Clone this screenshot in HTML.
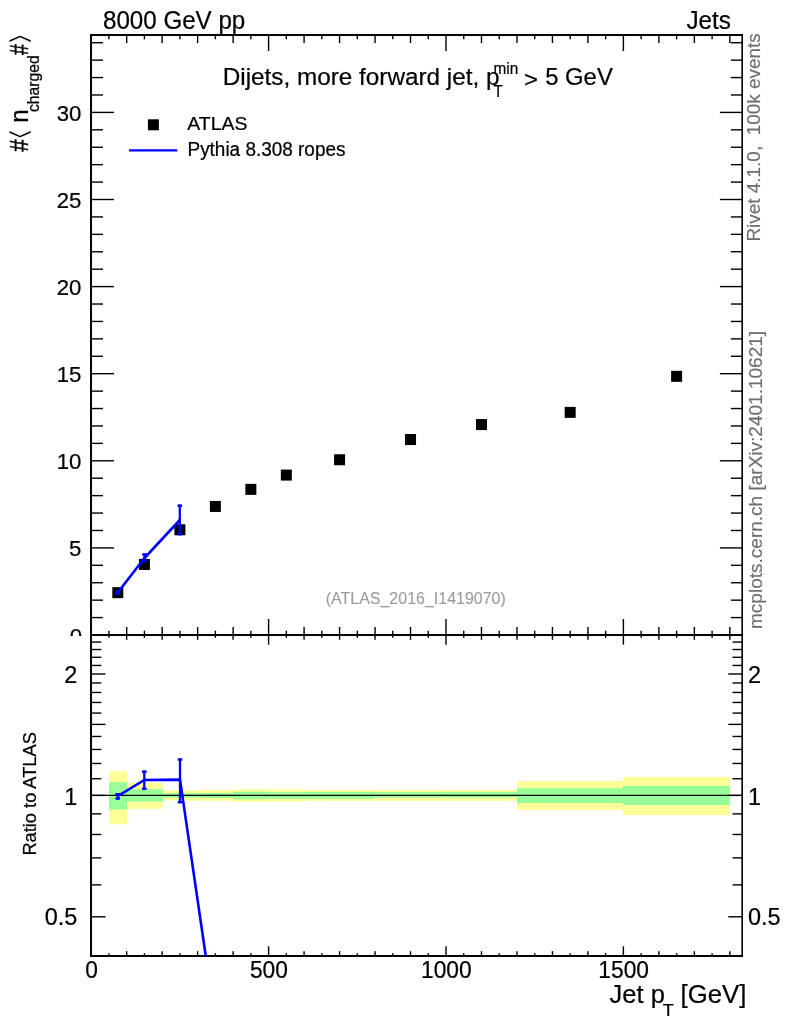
<!DOCTYPE html>
<html lang="en"><head><meta charset="utf-8"><title>Dijets, more forward jet</title>
<style>
html,body{margin:0;padding:0;background:#fff;}
body{width:786px;height:1024px;overflow:hidden;}
svg{display:block;font-family:"Liberation Sans", "DejaVu Sans", sans-serif;}
.ax{stroke:#000;fill:none;}
text{fill:#000;stroke:#000;stroke-width:0.22px;}
.g{fill:#9a9a9a;stroke:#9a9a9a;stroke-width:0.1px;}
.h{fill:#6e6e6e;stroke:#6e6e6e;stroke-width:0.15px;}
</style></head><body>
<svg width="786" height="1024" viewBox="0 0 786 1024">
<rect x="0" y="0" width="786" height="1024" fill="#fff"/>
<clipPath id="cu"><rect x="0" y="0" width="786" height="636"/></clipPath>
<g clip-path="url(#cu)">
<text transform="translate(82.00 644.00) scale(1.0000 0.9800)" font-size="22.2" text-anchor="end">0</text>
</g>
<g>
<rect x="109" y="771.2" width="18" height="53.1" fill="#ffff99"/>
<rect x="127" y="783.0" width="36" height="25.7" fill="#ffff99"/>
<rect x="163" y="790.5" width="35" height="10.0" fill="#ffff99"/>
<rect x="198" y="790.0" width="35" height="10.8" fill="#ffff99"/>
<rect x="233" y="789.2" width="35" height="12.5" fill="#ffff99"/>
<rect x="268" y="789.3" width="37" height="12.3" fill="#ffff99"/>
<rect x="305" y="790.0" width="70" height="10.8" fill="#ffff99"/>
<rect x="375" y="790.0" width="71" height="10.8" fill="#ffff99"/>
<rect x="446" y="790.0" width="71" height="10.8" fill="#ffff99"/>
<rect x="517" y="781.0" width="106" height="29.0" fill="#ffff99"/>
<rect x="623" y="777.0" width="107" height="38.2" fill="#ffff99"/>
<rect x="109" y="782.2" width="18" height="27.3" fill="#99ff99"/>
<rect x="127" y="789.2" width="36" height="12.5" fill="#99ff99"/>
<rect x="163" y="793.2" width="35" height="4.6" fill="#99ff99"/>
<rect x="198" y="793.0" width="35" height="5.0" fill="#99ff99"/>
<rect x="233" y="791.7" width="35" height="7.5" fill="#99ff99"/>
<rect x="268" y="792.2" width="37" height="6.6" fill="#99ff99"/>
<rect x="305" y="791.8" width="70" height="7.0" fill="#99ff99"/>
<rect x="375" y="792.2" width="71" height="5.5" fill="#99ff99"/>
<rect x="446" y="791.8" width="71" height="5.8" fill="#99ff99"/>
<rect x="517" y="788.3" width="106" height="14.7" fill="#99ff99"/>
<rect x="623" y="786.0" width="107" height="19.0" fill="#99ff99"/>
</g>
<line x1="91.00" y1="795.40" x2="742.00" y2="795.40" stroke="#000" stroke-width="1.1"/>
<line x1="91.00" y1="34.00" x2="91.00" y2="957.00" stroke="#000" stroke-width="2"/>
<line x1="90.00" y1="35.00" x2="743.00" y2="35.00" stroke="#000" stroke-width="2"/>
<line x1="90.00" y1="635.00" x2="743.00" y2="635.00" stroke="#000" stroke-width="2"/>
<line x1="90.00" y1="956.00" x2="743.00" y2="956.00" stroke="#000" stroke-width="2"/>
<line x1="742.20" y1="34.00" x2="742.20" y2="957.00" stroke="#000" stroke-width="1.6"/>
<line x1="108.94" y1="635.00" x2="108.94" y2="630.70" stroke="#000" stroke-width="1.4"/>
<line x1="108.94" y1="35.00" x2="108.94" y2="39.30" stroke="#000" stroke-width="1.4"/>
<line x1="108.94" y1="635.00" x2="108.94" y2="637.80" stroke="#000" stroke-width="1.4"/>
<line x1="108.94" y1="956.00" x2="108.94" y2="953.20" stroke="#000" stroke-width="1.4"/>
<line x1="126.68" y1="635.00" x2="126.68" y2="627.00" stroke="#000" stroke-width="1.4"/>
<line x1="126.68" y1="35.00" x2="126.68" y2="43.00" stroke="#000" stroke-width="1.4"/>
<line x1="126.68" y1="635.00" x2="126.68" y2="639.80" stroke="#000" stroke-width="1.4"/>
<line x1="126.68" y1="956.00" x2="126.68" y2="951.20" stroke="#000" stroke-width="1.4"/>
<line x1="144.42" y1="635.00" x2="144.42" y2="630.70" stroke="#000" stroke-width="1.4"/>
<line x1="144.42" y1="35.00" x2="144.42" y2="39.30" stroke="#000" stroke-width="1.4"/>
<line x1="144.42" y1="635.00" x2="144.42" y2="637.80" stroke="#000" stroke-width="1.4"/>
<line x1="144.42" y1="956.00" x2="144.42" y2="953.20" stroke="#000" stroke-width="1.4"/>
<line x1="162.16" y1="635.00" x2="162.16" y2="627.00" stroke="#000" stroke-width="1.4"/>
<line x1="162.16" y1="35.00" x2="162.16" y2="43.00" stroke="#000" stroke-width="1.4"/>
<line x1="162.16" y1="635.00" x2="162.16" y2="639.80" stroke="#000" stroke-width="1.4"/>
<line x1="162.16" y1="956.00" x2="162.16" y2="951.20" stroke="#000" stroke-width="1.4"/>
<line x1="179.90" y1="635.00" x2="179.90" y2="630.70" stroke="#000" stroke-width="1.4"/>
<line x1="179.90" y1="35.00" x2="179.90" y2="39.30" stroke="#000" stroke-width="1.4"/>
<line x1="179.90" y1="635.00" x2="179.90" y2="637.80" stroke="#000" stroke-width="1.4"/>
<line x1="179.90" y1="956.00" x2="179.90" y2="953.20" stroke="#000" stroke-width="1.4"/>
<line x1="197.64" y1="635.00" x2="197.64" y2="627.00" stroke="#000" stroke-width="1.4"/>
<line x1="197.64" y1="35.00" x2="197.64" y2="43.00" stroke="#000" stroke-width="1.4"/>
<line x1="197.64" y1="635.00" x2="197.64" y2="639.80" stroke="#000" stroke-width="1.4"/>
<line x1="197.64" y1="956.00" x2="197.64" y2="951.20" stroke="#000" stroke-width="1.4"/>
<line x1="215.38" y1="635.00" x2="215.38" y2="630.70" stroke="#000" stroke-width="1.4"/>
<line x1="215.38" y1="35.00" x2="215.38" y2="39.30" stroke="#000" stroke-width="1.4"/>
<line x1="215.38" y1="635.00" x2="215.38" y2="637.80" stroke="#000" stroke-width="1.4"/>
<line x1="215.38" y1="956.00" x2="215.38" y2="953.20" stroke="#000" stroke-width="1.4"/>
<line x1="233.12" y1="635.00" x2="233.12" y2="627.00" stroke="#000" stroke-width="1.4"/>
<line x1="233.12" y1="35.00" x2="233.12" y2="43.00" stroke="#000" stroke-width="1.4"/>
<line x1="233.12" y1="635.00" x2="233.12" y2="639.80" stroke="#000" stroke-width="1.4"/>
<line x1="233.12" y1="956.00" x2="233.12" y2="951.20" stroke="#000" stroke-width="1.4"/>
<line x1="250.86" y1="635.00" x2="250.86" y2="630.70" stroke="#000" stroke-width="1.4"/>
<line x1="250.86" y1="35.00" x2="250.86" y2="39.30" stroke="#000" stroke-width="1.4"/>
<line x1="250.86" y1="635.00" x2="250.86" y2="637.80" stroke="#000" stroke-width="1.4"/>
<line x1="250.86" y1="956.00" x2="250.86" y2="953.20" stroke="#000" stroke-width="1.4"/>
<line x1="268.60" y1="635.00" x2="268.60" y2="619.00" stroke="#000" stroke-width="1.4"/>
<line x1="268.60" y1="35.00" x2="268.60" y2="51.00" stroke="#000" stroke-width="1.4"/>
<line x1="268.60" y1="635.00" x2="268.60" y2="644.70" stroke="#000" stroke-width="1.4"/>
<line x1="268.60" y1="956.00" x2="268.60" y2="946.30" stroke="#000" stroke-width="1.4"/>
<line x1="286.34" y1="635.00" x2="286.34" y2="630.70" stroke="#000" stroke-width="1.4"/>
<line x1="286.34" y1="35.00" x2="286.34" y2="39.30" stroke="#000" stroke-width="1.4"/>
<line x1="286.34" y1="635.00" x2="286.34" y2="637.80" stroke="#000" stroke-width="1.4"/>
<line x1="286.34" y1="956.00" x2="286.34" y2="953.20" stroke="#000" stroke-width="1.4"/>
<line x1="304.08" y1="635.00" x2="304.08" y2="627.00" stroke="#000" stroke-width="1.4"/>
<line x1="304.08" y1="35.00" x2="304.08" y2="43.00" stroke="#000" stroke-width="1.4"/>
<line x1="304.08" y1="635.00" x2="304.08" y2="639.80" stroke="#000" stroke-width="1.4"/>
<line x1="304.08" y1="956.00" x2="304.08" y2="951.20" stroke="#000" stroke-width="1.4"/>
<line x1="321.82" y1="635.00" x2="321.82" y2="630.70" stroke="#000" stroke-width="1.4"/>
<line x1="321.82" y1="35.00" x2="321.82" y2="39.30" stroke="#000" stroke-width="1.4"/>
<line x1="321.82" y1="635.00" x2="321.82" y2="637.80" stroke="#000" stroke-width="1.4"/>
<line x1="321.82" y1="956.00" x2="321.82" y2="953.20" stroke="#000" stroke-width="1.4"/>
<line x1="339.56" y1="635.00" x2="339.56" y2="627.00" stroke="#000" stroke-width="1.4"/>
<line x1="339.56" y1="35.00" x2="339.56" y2="43.00" stroke="#000" stroke-width="1.4"/>
<line x1="339.56" y1="635.00" x2="339.56" y2="639.80" stroke="#000" stroke-width="1.4"/>
<line x1="339.56" y1="956.00" x2="339.56" y2="951.20" stroke="#000" stroke-width="1.4"/>
<line x1="357.30" y1="635.00" x2="357.30" y2="630.70" stroke="#000" stroke-width="1.4"/>
<line x1="357.30" y1="35.00" x2="357.30" y2="39.30" stroke="#000" stroke-width="1.4"/>
<line x1="357.30" y1="635.00" x2="357.30" y2="637.80" stroke="#000" stroke-width="1.4"/>
<line x1="357.30" y1="956.00" x2="357.30" y2="953.20" stroke="#000" stroke-width="1.4"/>
<line x1="375.04" y1="635.00" x2="375.04" y2="627.00" stroke="#000" stroke-width="1.4"/>
<line x1="375.04" y1="35.00" x2="375.04" y2="43.00" stroke="#000" stroke-width="1.4"/>
<line x1="375.04" y1="635.00" x2="375.04" y2="639.80" stroke="#000" stroke-width="1.4"/>
<line x1="375.04" y1="956.00" x2="375.04" y2="951.20" stroke="#000" stroke-width="1.4"/>
<line x1="392.78" y1="635.00" x2="392.78" y2="630.70" stroke="#000" stroke-width="1.4"/>
<line x1="392.78" y1="35.00" x2="392.78" y2="39.30" stroke="#000" stroke-width="1.4"/>
<line x1="392.78" y1="635.00" x2="392.78" y2="637.80" stroke="#000" stroke-width="1.4"/>
<line x1="392.78" y1="956.00" x2="392.78" y2="953.20" stroke="#000" stroke-width="1.4"/>
<line x1="410.52" y1="635.00" x2="410.52" y2="627.00" stroke="#000" stroke-width="1.4"/>
<line x1="410.52" y1="35.00" x2="410.52" y2="43.00" stroke="#000" stroke-width="1.4"/>
<line x1="410.52" y1="635.00" x2="410.52" y2="639.80" stroke="#000" stroke-width="1.4"/>
<line x1="410.52" y1="956.00" x2="410.52" y2="951.20" stroke="#000" stroke-width="1.4"/>
<line x1="428.26" y1="635.00" x2="428.26" y2="630.70" stroke="#000" stroke-width="1.4"/>
<line x1="428.26" y1="35.00" x2="428.26" y2="39.30" stroke="#000" stroke-width="1.4"/>
<line x1="428.26" y1="635.00" x2="428.26" y2="637.80" stroke="#000" stroke-width="1.4"/>
<line x1="428.26" y1="956.00" x2="428.26" y2="953.20" stroke="#000" stroke-width="1.4"/>
<line x1="446.00" y1="635.00" x2="446.00" y2="619.00" stroke="#000" stroke-width="1.4"/>
<line x1="446.00" y1="35.00" x2="446.00" y2="51.00" stroke="#000" stroke-width="1.4"/>
<line x1="446.00" y1="635.00" x2="446.00" y2="644.70" stroke="#000" stroke-width="1.4"/>
<line x1="446.00" y1="956.00" x2="446.00" y2="946.30" stroke="#000" stroke-width="1.4"/>
<line x1="463.74" y1="635.00" x2="463.74" y2="630.70" stroke="#000" stroke-width="1.4"/>
<line x1="463.74" y1="35.00" x2="463.74" y2="39.30" stroke="#000" stroke-width="1.4"/>
<line x1="463.74" y1="635.00" x2="463.74" y2="637.80" stroke="#000" stroke-width="1.4"/>
<line x1="463.74" y1="956.00" x2="463.74" y2="953.20" stroke="#000" stroke-width="1.4"/>
<line x1="481.48" y1="635.00" x2="481.48" y2="627.00" stroke="#000" stroke-width="1.4"/>
<line x1="481.48" y1="35.00" x2="481.48" y2="43.00" stroke="#000" stroke-width="1.4"/>
<line x1="481.48" y1="635.00" x2="481.48" y2="639.80" stroke="#000" stroke-width="1.4"/>
<line x1="481.48" y1="956.00" x2="481.48" y2="951.20" stroke="#000" stroke-width="1.4"/>
<line x1="499.22" y1="635.00" x2="499.22" y2="630.70" stroke="#000" stroke-width="1.4"/>
<line x1="499.22" y1="35.00" x2="499.22" y2="39.30" stroke="#000" stroke-width="1.4"/>
<line x1="499.22" y1="635.00" x2="499.22" y2="637.80" stroke="#000" stroke-width="1.4"/>
<line x1="499.22" y1="956.00" x2="499.22" y2="953.20" stroke="#000" stroke-width="1.4"/>
<line x1="516.96" y1="635.00" x2="516.96" y2="627.00" stroke="#000" stroke-width="1.4"/>
<line x1="516.96" y1="35.00" x2="516.96" y2="43.00" stroke="#000" stroke-width="1.4"/>
<line x1="516.96" y1="635.00" x2="516.96" y2="639.80" stroke="#000" stroke-width="1.4"/>
<line x1="516.96" y1="956.00" x2="516.96" y2="951.20" stroke="#000" stroke-width="1.4"/>
<line x1="534.70" y1="635.00" x2="534.70" y2="630.70" stroke="#000" stroke-width="1.4"/>
<line x1="534.70" y1="35.00" x2="534.70" y2="39.30" stroke="#000" stroke-width="1.4"/>
<line x1="534.70" y1="635.00" x2="534.70" y2="637.80" stroke="#000" stroke-width="1.4"/>
<line x1="534.70" y1="956.00" x2="534.70" y2="953.20" stroke="#000" stroke-width="1.4"/>
<line x1="552.44" y1="635.00" x2="552.44" y2="627.00" stroke="#000" stroke-width="1.4"/>
<line x1="552.44" y1="35.00" x2="552.44" y2="43.00" stroke="#000" stroke-width="1.4"/>
<line x1="552.44" y1="635.00" x2="552.44" y2="639.80" stroke="#000" stroke-width="1.4"/>
<line x1="552.44" y1="956.00" x2="552.44" y2="951.20" stroke="#000" stroke-width="1.4"/>
<line x1="570.18" y1="635.00" x2="570.18" y2="630.70" stroke="#000" stroke-width="1.4"/>
<line x1="570.18" y1="35.00" x2="570.18" y2="39.30" stroke="#000" stroke-width="1.4"/>
<line x1="570.18" y1="635.00" x2="570.18" y2="637.80" stroke="#000" stroke-width="1.4"/>
<line x1="570.18" y1="956.00" x2="570.18" y2="953.20" stroke="#000" stroke-width="1.4"/>
<line x1="587.92" y1="635.00" x2="587.92" y2="627.00" stroke="#000" stroke-width="1.4"/>
<line x1="587.92" y1="35.00" x2="587.92" y2="43.00" stroke="#000" stroke-width="1.4"/>
<line x1="587.92" y1="635.00" x2="587.92" y2="639.80" stroke="#000" stroke-width="1.4"/>
<line x1="587.92" y1="956.00" x2="587.92" y2="951.20" stroke="#000" stroke-width="1.4"/>
<line x1="605.66" y1="635.00" x2="605.66" y2="630.70" stroke="#000" stroke-width="1.4"/>
<line x1="605.66" y1="35.00" x2="605.66" y2="39.30" stroke="#000" stroke-width="1.4"/>
<line x1="605.66" y1="635.00" x2="605.66" y2="637.80" stroke="#000" stroke-width="1.4"/>
<line x1="605.66" y1="956.00" x2="605.66" y2="953.20" stroke="#000" stroke-width="1.4"/>
<line x1="623.40" y1="635.00" x2="623.40" y2="619.00" stroke="#000" stroke-width="1.4"/>
<line x1="623.40" y1="35.00" x2="623.40" y2="51.00" stroke="#000" stroke-width="1.4"/>
<line x1="623.40" y1="635.00" x2="623.40" y2="644.70" stroke="#000" stroke-width="1.4"/>
<line x1="623.40" y1="956.00" x2="623.40" y2="946.30" stroke="#000" stroke-width="1.4"/>
<line x1="641.14" y1="635.00" x2="641.14" y2="630.70" stroke="#000" stroke-width="1.4"/>
<line x1="641.14" y1="35.00" x2="641.14" y2="39.30" stroke="#000" stroke-width="1.4"/>
<line x1="641.14" y1="635.00" x2="641.14" y2="637.80" stroke="#000" stroke-width="1.4"/>
<line x1="641.14" y1="956.00" x2="641.14" y2="953.20" stroke="#000" stroke-width="1.4"/>
<line x1="658.88" y1="635.00" x2="658.88" y2="627.00" stroke="#000" stroke-width="1.4"/>
<line x1="658.88" y1="35.00" x2="658.88" y2="43.00" stroke="#000" stroke-width="1.4"/>
<line x1="658.88" y1="635.00" x2="658.88" y2="639.80" stroke="#000" stroke-width="1.4"/>
<line x1="658.88" y1="956.00" x2="658.88" y2="951.20" stroke="#000" stroke-width="1.4"/>
<line x1="676.62" y1="635.00" x2="676.62" y2="630.70" stroke="#000" stroke-width="1.4"/>
<line x1="676.62" y1="35.00" x2="676.62" y2="39.30" stroke="#000" stroke-width="1.4"/>
<line x1="676.62" y1="635.00" x2="676.62" y2="637.80" stroke="#000" stroke-width="1.4"/>
<line x1="676.62" y1="956.00" x2="676.62" y2="953.20" stroke="#000" stroke-width="1.4"/>
<line x1="694.36" y1="635.00" x2="694.36" y2="627.00" stroke="#000" stroke-width="1.4"/>
<line x1="694.36" y1="35.00" x2="694.36" y2="43.00" stroke="#000" stroke-width="1.4"/>
<line x1="694.36" y1="635.00" x2="694.36" y2="639.80" stroke="#000" stroke-width="1.4"/>
<line x1="694.36" y1="956.00" x2="694.36" y2="951.20" stroke="#000" stroke-width="1.4"/>
<line x1="712.10" y1="635.00" x2="712.10" y2="630.70" stroke="#000" stroke-width="1.4"/>
<line x1="712.10" y1="35.00" x2="712.10" y2="39.30" stroke="#000" stroke-width="1.4"/>
<line x1="712.10" y1="635.00" x2="712.10" y2="637.80" stroke="#000" stroke-width="1.4"/>
<line x1="712.10" y1="956.00" x2="712.10" y2="953.20" stroke="#000" stroke-width="1.4"/>
<line x1="729.84" y1="635.00" x2="729.84" y2="627.00" stroke="#000" stroke-width="1.4"/>
<line x1="729.84" y1="35.00" x2="729.84" y2="43.00" stroke="#000" stroke-width="1.4"/>
<line x1="729.84" y1="635.00" x2="729.84" y2="639.80" stroke="#000" stroke-width="1.4"/>
<line x1="729.84" y1="956.00" x2="729.84" y2="951.20" stroke="#000" stroke-width="1.4"/>
<line x1="91.00" y1="617.58" x2="103.00" y2="617.58" stroke="#000" stroke-width="1.4"/>
<line x1="742.00" y1="617.58" x2="730.90" y2="617.58" stroke="#000" stroke-width="1.4"/>
<line x1="91.00" y1="600.16" x2="103.00" y2="600.16" stroke="#000" stroke-width="1.4"/>
<line x1="742.00" y1="600.16" x2="730.90" y2="600.16" stroke="#000" stroke-width="1.4"/>
<line x1="91.00" y1="582.74" x2="103.00" y2="582.74" stroke="#000" stroke-width="1.4"/>
<line x1="742.00" y1="582.74" x2="730.90" y2="582.74" stroke="#000" stroke-width="1.4"/>
<line x1="91.00" y1="565.32" x2="103.00" y2="565.32" stroke="#000" stroke-width="1.4"/>
<line x1="742.00" y1="565.32" x2="730.90" y2="565.32" stroke="#000" stroke-width="1.4"/>
<line x1="91.00" y1="547.90" x2="114.00" y2="547.90" stroke="#000" stroke-width="1.4"/>
<line x1="742.00" y1="547.90" x2="719.90" y2="547.90" stroke="#000" stroke-width="1.4"/>
<text transform="translate(81.40 556.20) scale(1.0000 0.9800)" font-size="22.2" text-anchor="end">5</text>
<line x1="91.00" y1="530.48" x2="103.00" y2="530.48" stroke="#000" stroke-width="1.4"/>
<line x1="742.00" y1="530.48" x2="730.90" y2="530.48" stroke="#000" stroke-width="1.4"/>
<line x1="91.00" y1="513.06" x2="103.00" y2="513.06" stroke="#000" stroke-width="1.4"/>
<line x1="742.00" y1="513.06" x2="730.90" y2="513.06" stroke="#000" stroke-width="1.4"/>
<line x1="91.00" y1="495.64" x2="103.00" y2="495.64" stroke="#000" stroke-width="1.4"/>
<line x1="742.00" y1="495.64" x2="730.90" y2="495.64" stroke="#000" stroke-width="1.4"/>
<line x1="91.00" y1="478.22" x2="103.00" y2="478.22" stroke="#000" stroke-width="1.4"/>
<line x1="742.00" y1="478.22" x2="730.90" y2="478.22" stroke="#000" stroke-width="1.4"/>
<line x1="91.00" y1="460.80" x2="114.00" y2="460.80" stroke="#000" stroke-width="1.4"/>
<line x1="742.00" y1="460.80" x2="719.90" y2="460.80" stroke="#000" stroke-width="1.4"/>
<text transform="translate(81.40 469.10) scale(1.0000 0.9800)" font-size="22.2" text-anchor="end">10</text>
<line x1="91.00" y1="443.38" x2="103.00" y2="443.38" stroke="#000" stroke-width="1.4"/>
<line x1="742.00" y1="443.38" x2="730.90" y2="443.38" stroke="#000" stroke-width="1.4"/>
<line x1="91.00" y1="425.96" x2="103.00" y2="425.96" stroke="#000" stroke-width="1.4"/>
<line x1="742.00" y1="425.96" x2="730.90" y2="425.96" stroke="#000" stroke-width="1.4"/>
<line x1="91.00" y1="408.54" x2="103.00" y2="408.54" stroke="#000" stroke-width="1.4"/>
<line x1="742.00" y1="408.54" x2="730.90" y2="408.54" stroke="#000" stroke-width="1.4"/>
<line x1="91.00" y1="391.12" x2="103.00" y2="391.12" stroke="#000" stroke-width="1.4"/>
<line x1="742.00" y1="391.12" x2="730.90" y2="391.12" stroke="#000" stroke-width="1.4"/>
<line x1="91.00" y1="373.70" x2="114.00" y2="373.70" stroke="#000" stroke-width="1.4"/>
<line x1="742.00" y1="373.70" x2="719.90" y2="373.70" stroke="#000" stroke-width="1.4"/>
<text transform="translate(81.40 382.00) scale(1.0000 0.9800)" font-size="22.2" text-anchor="end">15</text>
<line x1="91.00" y1="356.28" x2="103.00" y2="356.28" stroke="#000" stroke-width="1.4"/>
<line x1="742.00" y1="356.28" x2="730.90" y2="356.28" stroke="#000" stroke-width="1.4"/>
<line x1="91.00" y1="338.86" x2="103.00" y2="338.86" stroke="#000" stroke-width="1.4"/>
<line x1="742.00" y1="338.86" x2="730.90" y2="338.86" stroke="#000" stroke-width="1.4"/>
<line x1="91.00" y1="321.44" x2="103.00" y2="321.44" stroke="#000" stroke-width="1.4"/>
<line x1="742.00" y1="321.44" x2="730.90" y2="321.44" stroke="#000" stroke-width="1.4"/>
<line x1="91.00" y1="304.02" x2="103.00" y2="304.02" stroke="#000" stroke-width="1.4"/>
<line x1="742.00" y1="304.02" x2="730.90" y2="304.02" stroke="#000" stroke-width="1.4"/>
<line x1="91.00" y1="286.60" x2="114.00" y2="286.60" stroke="#000" stroke-width="1.4"/>
<line x1="742.00" y1="286.60" x2="719.90" y2="286.60" stroke="#000" stroke-width="1.4"/>
<text transform="translate(81.40 294.90) scale(1.0000 0.9800)" font-size="22.2" text-anchor="end">20</text>
<line x1="91.00" y1="269.18" x2="103.00" y2="269.18" stroke="#000" stroke-width="1.4"/>
<line x1="742.00" y1="269.18" x2="730.90" y2="269.18" stroke="#000" stroke-width="1.4"/>
<line x1="91.00" y1="251.76" x2="103.00" y2="251.76" stroke="#000" stroke-width="1.4"/>
<line x1="742.00" y1="251.76" x2="730.90" y2="251.76" stroke="#000" stroke-width="1.4"/>
<line x1="91.00" y1="234.34" x2="103.00" y2="234.34" stroke="#000" stroke-width="1.4"/>
<line x1="742.00" y1="234.34" x2="730.90" y2="234.34" stroke="#000" stroke-width="1.4"/>
<line x1="91.00" y1="216.92" x2="103.00" y2="216.92" stroke="#000" stroke-width="1.4"/>
<line x1="742.00" y1="216.92" x2="730.90" y2="216.92" stroke="#000" stroke-width="1.4"/>
<line x1="91.00" y1="199.50" x2="114.00" y2="199.50" stroke="#000" stroke-width="1.4"/>
<line x1="742.00" y1="199.50" x2="719.90" y2="199.50" stroke="#000" stroke-width="1.4"/>
<text transform="translate(81.40 207.80) scale(1.0000 0.9800)" font-size="22.2" text-anchor="end">25</text>
<line x1="91.00" y1="182.08" x2="103.00" y2="182.08" stroke="#000" stroke-width="1.4"/>
<line x1="742.00" y1="182.08" x2="730.90" y2="182.08" stroke="#000" stroke-width="1.4"/>
<line x1="91.00" y1="164.66" x2="103.00" y2="164.66" stroke="#000" stroke-width="1.4"/>
<line x1="742.00" y1="164.66" x2="730.90" y2="164.66" stroke="#000" stroke-width="1.4"/>
<line x1="91.00" y1="147.24" x2="103.00" y2="147.24" stroke="#000" stroke-width="1.4"/>
<line x1="742.00" y1="147.24" x2="730.90" y2="147.24" stroke="#000" stroke-width="1.4"/>
<line x1="91.00" y1="129.82" x2="103.00" y2="129.82" stroke="#000" stroke-width="1.4"/>
<line x1="742.00" y1="129.82" x2="730.90" y2="129.82" stroke="#000" stroke-width="1.4"/>
<line x1="91.00" y1="112.40" x2="114.00" y2="112.40" stroke="#000" stroke-width="1.4"/>
<line x1="742.00" y1="112.40" x2="719.90" y2="112.40" stroke="#000" stroke-width="1.4"/>
<text transform="translate(81.40 120.70) scale(1.0000 0.9800)" font-size="22.2" text-anchor="end">30</text>
<line x1="91.00" y1="94.98" x2="103.00" y2="94.98" stroke="#000" stroke-width="1.4"/>
<line x1="742.00" y1="94.98" x2="730.90" y2="94.98" stroke="#000" stroke-width="1.4"/>
<line x1="91.00" y1="77.56" x2="103.00" y2="77.56" stroke="#000" stroke-width="1.4"/>
<line x1="742.00" y1="77.56" x2="730.90" y2="77.56" stroke="#000" stroke-width="1.4"/>
<line x1="91.00" y1="60.14" x2="103.00" y2="60.14" stroke="#000" stroke-width="1.4"/>
<line x1="742.00" y1="60.14" x2="730.90" y2="60.14" stroke="#000" stroke-width="1.4"/>
<line x1="91.00" y1="42.72" x2="103.00" y2="42.72" stroke="#000" stroke-width="1.4"/>
<line x1="742.00" y1="42.72" x2="730.90" y2="42.72" stroke="#000" stroke-width="1.4"/>
<line x1="91.00" y1="916.80" x2="105.50" y2="916.80" stroke="#000" stroke-width="1.4"/>
<line x1="742.00" y1="916.80" x2="728.30" y2="916.80" stroke="#000" stroke-width="1.4"/>
<line x1="91.00" y1="884.87" x2="101.30" y2="884.87" stroke="#000" stroke-width="1.4"/>
<line x1="742.00" y1="884.87" x2="732.50" y2="884.87" stroke="#000" stroke-width="1.4"/>
<line x1="91.00" y1="857.87" x2="101.30" y2="857.87" stroke="#000" stroke-width="1.4"/>
<line x1="742.00" y1="857.87" x2="732.50" y2="857.87" stroke="#000" stroke-width="1.4"/>
<line x1="91.00" y1="834.48" x2="101.30" y2="834.48" stroke="#000" stroke-width="1.4"/>
<line x1="742.00" y1="834.48" x2="732.50" y2="834.48" stroke="#000" stroke-width="1.4"/>
<line x1="91.00" y1="813.85" x2="101.30" y2="813.85" stroke="#000" stroke-width="1.4"/>
<line x1="742.00" y1="813.85" x2="732.50" y2="813.85" stroke="#000" stroke-width="1.4"/>
<line x1="91.00" y1="795.40" x2="105.50" y2="795.40" stroke="#000" stroke-width="1.4"/>
<line x1="742.00" y1="795.40" x2="728.30" y2="795.40" stroke="#000" stroke-width="1.4"/>
<line x1="91.00" y1="778.71" x2="101.30" y2="778.71" stroke="#000" stroke-width="1.4"/>
<line x1="742.00" y1="778.71" x2="732.50" y2="778.71" stroke="#000" stroke-width="1.4"/>
<line x1="91.00" y1="763.47" x2="101.30" y2="763.47" stroke="#000" stroke-width="1.4"/>
<line x1="742.00" y1="763.47" x2="732.50" y2="763.47" stroke="#000" stroke-width="1.4"/>
<line x1="91.00" y1="749.45" x2="101.30" y2="749.45" stroke="#000" stroke-width="1.4"/>
<line x1="742.00" y1="749.45" x2="732.50" y2="749.45" stroke="#000" stroke-width="1.4"/>
<line x1="91.00" y1="736.47" x2="101.30" y2="736.47" stroke="#000" stroke-width="1.4"/>
<line x1="742.00" y1="736.47" x2="732.50" y2="736.47" stroke="#000" stroke-width="1.4"/>
<line x1="91.00" y1="724.39" x2="105.50" y2="724.39" stroke="#000" stroke-width="1.4"/>
<line x1="742.00" y1="724.39" x2="728.30" y2="724.39" stroke="#000" stroke-width="1.4"/>
<line x1="91.00" y1="713.08" x2="101.30" y2="713.08" stroke="#000" stroke-width="1.4"/>
<line x1="742.00" y1="713.08" x2="732.50" y2="713.08" stroke="#000" stroke-width="1.4"/>
<line x1="91.00" y1="702.46" x2="101.30" y2="702.46" stroke="#000" stroke-width="1.4"/>
<line x1="742.00" y1="702.46" x2="732.50" y2="702.46" stroke="#000" stroke-width="1.4"/>
<line x1="91.00" y1="692.45" x2="101.30" y2="692.45" stroke="#000" stroke-width="1.4"/>
<line x1="742.00" y1="692.45" x2="732.50" y2="692.45" stroke="#000" stroke-width="1.4"/>
<line x1="91.00" y1="682.98" x2="101.30" y2="682.98" stroke="#000" stroke-width="1.4"/>
<line x1="742.00" y1="682.98" x2="732.50" y2="682.98" stroke="#000" stroke-width="1.4"/>
<line x1="91.00" y1="674.00" x2="105.50" y2="674.00" stroke="#000" stroke-width="1.4"/>
<line x1="742.00" y1="674.00" x2="728.30" y2="674.00" stroke="#000" stroke-width="1.4"/>
<line x1="91.00" y1="665.45" x2="101.30" y2="665.45" stroke="#000" stroke-width="1.4"/>
<line x1="742.00" y1="665.45" x2="732.50" y2="665.45" stroke="#000" stroke-width="1.4"/>
<line x1="91.00" y1="657.31" x2="101.30" y2="657.31" stroke="#000" stroke-width="1.4"/>
<line x1="742.00" y1="657.31" x2="732.50" y2="657.31" stroke="#000" stroke-width="1.4"/>
<line x1="91.00" y1="649.52" x2="101.30" y2="649.52" stroke="#000" stroke-width="1.4"/>
<line x1="742.00" y1="649.52" x2="732.50" y2="649.52" stroke="#000" stroke-width="1.4"/>
<line x1="91.00" y1="642.07" x2="101.30" y2="642.07" stroke="#000" stroke-width="1.4"/>
<line x1="742.00" y1="642.07" x2="732.50" y2="642.07" stroke="#000" stroke-width="1.4"/>
<text transform="translate(77.30 682.70) scale(1.0000 1.0100)" font-size="23.5" text-anchor="end">2</text>
<text transform="translate(748.00 682.70) scale(1.0000 1.0100)" font-size="23.5" text-anchor="start">2</text>
<text transform="translate(77.30 804.60) scale(1.0000 1.0100)" font-size="23.5" text-anchor="end">1</text>
<text transform="translate(748.00 804.60) scale(1.0000 1.0100)" font-size="23.5" text-anchor="start">1</text>
<text transform="translate(77.30 925.40) scale(1.0000 1.0100)" font-size="23.5" text-anchor="end">0.5</text>
<text transform="translate(748.00 925.40) scale(1.0000 1.0100)" font-size="23.5" text-anchor="start">0.5</text>
<text transform="translate(91.50 978.40) scale(0.9700 1.0300)" font-size="23.5" text-anchor="middle">0</text>
<text transform="translate(268.90 978.40) scale(0.9700 1.0300)" font-size="23.5" text-anchor="middle">500</text>
<text transform="translate(446.30 978.40) scale(0.9700 1.0300)" font-size="23.5" text-anchor="middle">1000</text>
<text transform="translate(623.70 978.40) scale(0.9700 1.0300)" font-size="23.5" text-anchor="middle">1500</text>
<text transform="translate(103.00 29.20) scale(0.9940 1.0400)" font-size="24.3" text-anchor="start">8000 GeV pp</text>
<text transform="translate(731.00 29.20) scale(1.0000 1.0400)" font-size="24.3" text-anchor="end">Jets</text>
<text transform="translate(222.70 85.00) scale(1.0000 1.0000)" font-size="24.3" text-anchor="start">Dijets, more forward jet, p</text>
<text transform="translate(493.40 96.60) scale(1.0000 1.0600)" font-size="15.2" text-anchor="start">T</text>
<text transform="translate(493.60 73.70) scale(1.0100 1.0600)" font-size="15.2" text-anchor="start">min</text>
<text transform="translate(524.10 86.60) scale(0.9843 0.9400)" font-size="24.3" text-anchor="start">&gt;</text>
<text transform="translate(545.15 85.00) scale(0.9823 1.0000)" font-size="24.3" text-anchor="start">5 GeV</text>
<rect x="147.9" y="119.3" width="11" height="11" fill="#000"/>
<line x1="129.00" y1="150.30" x2="177.30" y2="150.30" stroke="#0000ff" stroke-width="2.3"/>
<text transform="translate(187.30 130.00) scale(1.0400 1.0200)" font-size="18.7" text-anchor="start">ATLAS</text>
<text transform="translate(187.50 156.00) scale(1.0140 1.0600)" font-size="18.7" text-anchor="start">Pythia 8.308 ropes</text>
<text transform="translate(415.75 603.70) scale(1.0120 1.0400)" font-size="15.8" text-anchor="middle" class="g">(ATLAS_2016_I1419070)</text>
<text transform="translate(759.60 241.60) rotate(-90) scale(1.0130 0.9800)" font-size="18.7" text-anchor="start" class="h" xml:space="preserve" style="white-space:pre">Rivet 4.1.0,  100k events</text>
<text transform="translate(762.00 629.00) rotate(-90) scale(1.0120 0.9800)" font-size="18.8" text-anchor="start" class="h">mcplots.cern.ch [arXiv:2401.10621]</text>
<text transform="translate(27.50 151.71) rotate(-90) scale(0.9245 1.0400)" font-size="24.3" text-anchor="start" style="stroke:#000;stroke-width:0.4px">#</text>
<text transform="translate(27.70 141.19) rotate(-90) scale(1.4354 1.0000)" font-size="24.7" text-anchor="start" font-family="DejaVu Sans" style="stroke:#fff;stroke-width:0.7px">⟨</text>
<text transform="translate(27.50 122.73) rotate(-90) scale(0.9935 1.0400)" font-size="24.3" text-anchor="start">n</text>
<text transform="translate(38.60 111.97) rotate(-90) scale(0.9924 1.0400)" font-size="15.8" text-anchor="start">charged</text>
<text transform="translate(27.50 55.00) rotate(-90) scale(0.8043 1.0400)" font-size="24.3" text-anchor="start" style="stroke:#000;stroke-width:0.4px">#</text>
<text transform="translate(27.70 45.40) rotate(-90) scale(1.4170 1.0000)" font-size="24.7" text-anchor="start" font-family="DejaVu Sans" style="stroke:#fff;stroke-width:0.7px">⟩</text>
<text transform="translate(36.30 855.60) rotate(-90) scale(1.0380 1.0400)" font-size="17.6" text-anchor="start">Ratio to ATLAS</text>
<text transform="translate(609.60 1002.80) scale(1.0000 1.0250)" font-size="25.5" text-anchor="start">Jet p</text>
<text transform="translate(662.80 1016.00) scale(1.1800 1.0500)" font-size="15.2" text-anchor="start">T</text>
<text transform="translate(680.50 1002.80) scale(1.0100 1.0250)" font-size="25.5" text-anchor="start">[GeV]</text>
<rect x="112.31" y="587.17" width="11" height="11" fill="#000"/>
<rect x="138.92" y="558.95" width="11" height="11" fill="#000"/>
<rect x="174.40" y="524.28" width="11" height="11" fill="#000"/>
<rect x="209.88" y="500.94" width="11" height="11" fill="#000"/>
<rect x="245.36" y="483.87" width="11" height="11" fill="#000"/>
<rect x="280.84" y="469.58" width="11" height="11" fill="#000"/>
<rect x="334.06" y="454.25" width="11" height="11" fill="#000"/>
<rect x="405.02" y="434.05" width="11" height="11" fill="#000"/>
<rect x="475.98" y="419.07" width="11" height="11" fill="#000"/>
<rect x="564.68" y="406.87" width="11" height="11" fill="#000"/>
<rect x="671.12" y="370.81" width="11" height="11" fill="#000"/>
<polyline points="117.60,592.80 144.50,558.00 179.80,520.00" fill="none" stroke="#0000ff" stroke-width="2.6" stroke-linejoin="round"/>
<line x1="117.60" y1="590.70" x2="117.60" y2="594.90" stroke="#0000ff" stroke-width="2.3"/>
<line x1="115.30" y1="591.90" x2="119.90" y2="591.90" stroke="#0000ff" stroke-width="2.4"/>
<line x1="115.30" y1="593.70" x2="119.90" y2="593.70" stroke="#0000ff" stroke-width="2.4"/>
<line x1="144.50" y1="553.30" x2="144.50" y2="562.30" stroke="#0000ff" stroke-width="2.3"/>
<line x1="142.20" y1="554.50" x2="146.80" y2="554.50" stroke="#0000ff" stroke-width="2.4"/>
<line x1="142.20" y1="561.10" x2="146.80" y2="561.10" stroke="#0000ff" stroke-width="2.4"/>
<line x1="179.80" y1="504.50" x2="179.80" y2="535.30" stroke="#0000ff" stroke-width="2.3"/>
<line x1="177.50" y1="505.70" x2="182.10" y2="505.70" stroke="#0000ff" stroke-width="2.4"/>
<line x1="177.50" y1="534.10" x2="182.10" y2="534.10" stroke="#0000ff" stroke-width="2.4"/>
<clipPath id="cl"><rect x="91.00" y="635.00" width="651.00" height="321.00"/></clipPath>
<g clip-path="url(#cl)">
<polyline points="117.70,796.20 144.30,780.00 180.00,779.60 205.7,955.5 207.2,966" fill="none" stroke="#0000ff" stroke-width="2.6" stroke-linejoin="round"/>
<line x1="117.70" y1="793.00" x2="117.70" y2="799.70" stroke="#0000ff" stroke-width="2.3"/>
<line x1="115.40" y1="794.20" x2="120.00" y2="794.20" stroke="#0000ff" stroke-width="2.4"/>
<line x1="115.40" y1="798.50" x2="120.00" y2="798.50" stroke="#0000ff" stroke-width="2.4"/>
<line x1="144.30" y1="770.50" x2="144.30" y2="790.00" stroke="#0000ff" stroke-width="2.3"/>
<line x1="142.00" y1="771.70" x2="146.60" y2="771.70" stroke="#0000ff" stroke-width="2.4"/>
<line x1="142.00" y1="788.80" x2="146.60" y2="788.80" stroke="#0000ff" stroke-width="2.4"/>
<line x1="180.00" y1="758.30" x2="180.00" y2="803.30" stroke="#0000ff" stroke-width="2.3"/>
<line x1="177.70" y1="759.50" x2="182.30" y2="759.50" stroke="#0000ff" stroke-width="2.4"/>
<line x1="177.70" y1="802.10" x2="182.30" y2="802.10" stroke="#0000ff" stroke-width="2.4"/>
</g>
</svg>
</body></html>
